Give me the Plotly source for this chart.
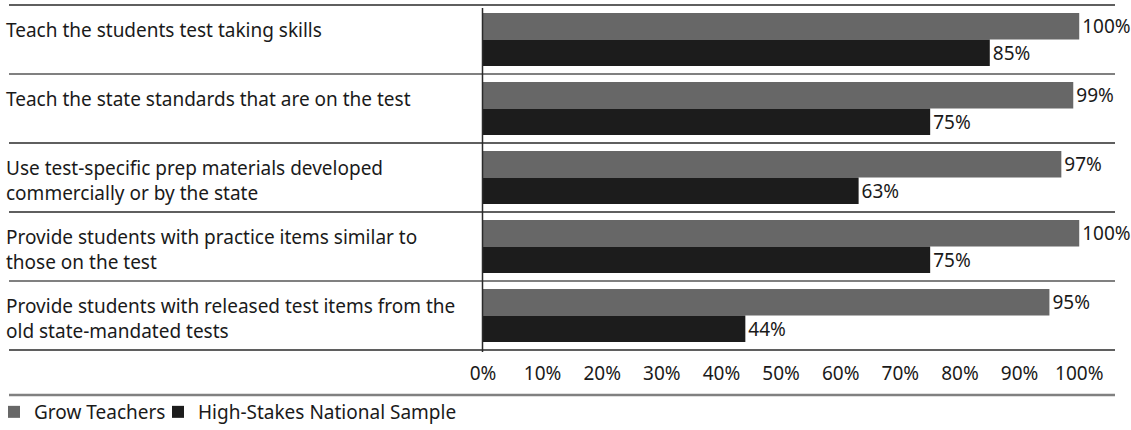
import plotly.graph_objects as go

categories = [
    "Teach the students test taking skills",
    "Teach the state standards that are on the test",
    "Use test-specific prep materials developed<br>commercially or by the state",
    "Provide students with practice items similar to<br>those on the test",
    "Provide students with released test items from the<br>old state-mandated tests",
]
grow_teachers = [100, 99, 97, 100, 95]
national_sample = [85, 75, 63, 75, 44]
tick_vals = [0, 10, 20, 30, 40, 50, 60, 70, 80, 90, 100]
tick_text = [f"{v}%" for v in tick_vals]

W, H = 1131, 430
FONT = "Noto Sans"
FS = 19

def px(x):
    return x / W

def py(y):
    return 1 - y / H

y_idx = list(range(len(categories)))

fig = go.Figure()
fig.add_trace(go.Bar(
    y=y_idx, x=grow_teachers, orientation="h", name="Grow Teachers",
    marker=dict(color="#676767", line=dict(width=0)),
    text=[f"{v}%" for v in grow_teachers], textposition="outside",
    textfont=dict(size=FS, color="#1a1a1a", family=FONT), cliponaxis=False,
    constraintext="none", legend="legend",
))
fig.add_trace(go.Bar(
    y=y_idx, x=national_sample, orientation="h", name="High-Stakes National Sample",
    marker=dict(color="#1c1c1c", line=dict(width=0)),
    text=[f"{v}%" for v in national_sample], textposition="outside",
    textfont=dict(size=FS, color="#1a1a1a", family=FONT), cliponaxis=False,
    constraintext="none", legend="legend2",
))

x0, x1 = 483, 1115
y_top, y_bot = 5, 350

legend_common = dict(
    orientation="h", xanchor="left", y=py(412), yanchor="middle",
    font=dict(size=FS, family=FONT, color="#1a1a1a"),
    itemclick=False, itemdoubleclick=False, bgcolor="rgba(0,0,0,0)",
)

fig.update_layout(
    width=W, height=H,
    margin=dict(l=0, r=0, t=0, b=0, autoexpand=False),
    paper_bgcolor="white", plot_bgcolor="white",
    barmode="group", bargap=0.23, bargroupgap=0,
    font=dict(family=FONT, size=FS, color="#1a1a1a"),
    xaxis=dict(
        domain=[px(x0), px(x1)], range=[0, 106],
        tickvals=tick_vals, ticktext=tick_text,
        showgrid=False, zeroline=False, showline=False, ticks="",
        ticklabelstandoff=10, tickfont=dict(size=FS, family=FONT, color="#1a1a1a"),
    ),
    yaxis=dict(
        domain=[py(y_bot), py(y_top)], range=[4.5, -0.5],
        showticklabels=False, showgrid=False, zeroline=False, showline=False, ticks="",
    ),
    showlegend=True,
    legend=dict(x=px(-6), **legend_common),
    legend2=dict(x=px(158), **legend_common),
)

# category labels, left aligned
for i, c in enumerate(categories):
    band_top = y_top + i * 69
    fig.add_annotation(
        xref="paper", yref="paper", x=px(4), y=py(band_top + 10),
        xanchor="left", yanchor="top", align="left", showarrow=False,
        text=c, font=dict(size=FS, family=FONT, color="#1a1a1a"),
    )

shapes = []
line_specs = [(5, "#2a2a2a", 1.5), (74, "#808080", 2), (143, "#2a2a2a", 1.5),
              (212, "#2a2a2a", 1.5), (281, "#808080", 2), (350, "#2a2a2a", 1.5),
              (395, "#808080", 2.5)]
for yy, col, w in line_specs:
    shapes.append(dict(type="line", xref="paper", yref="paper",
                       x0=px(9), x1=px(1115), y0=py(yy), y1=py(yy),
                       line=dict(color=col, width=w)))
shapes.append(dict(type="line", xref="paper", yref="paper",
                   x0=px(482.5), x1=px(482.5), y0=py(8), y1=py(352),
                   line=dict(color="#2a2a2a", width=1.5)))
fig.update_layout(shapes=shapes)

fig.write_html("out.html", config={"displayModeBar": False},
               post_script="document.body.style.margin='0px';")
